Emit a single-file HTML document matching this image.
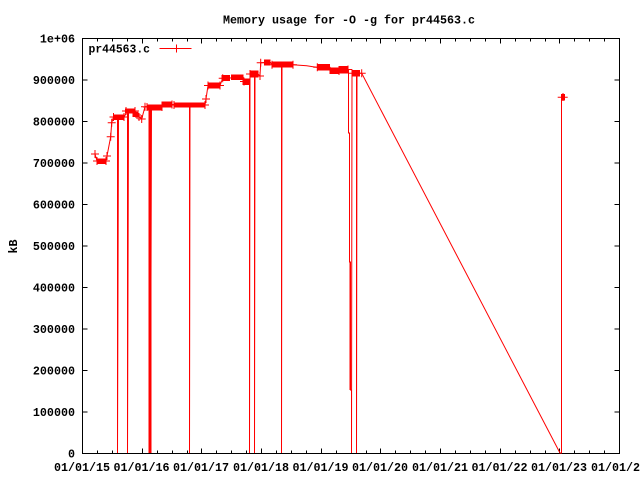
<!DOCTYPE html>
<html><head><meta charset="utf-8"><style>
html,body{margin:0;padding:0;background:#fff;}
svg{display:block;}
text{font-family:"Liberation Mono",monospace;font-weight:bold;font-size:11.7px;fill:#000;}
</style></head><body>
<svg width="640" height="480" viewBox="0 0 640 480" xmlns="http://www.w3.org/2000/svg">
<rect x="0" y="0" width="640" height="480" fill="#fff"/>
<!-- title -->
<text x="223" y="23.5" textLength="252" lengthAdjust="spacingAndGlyphs">Memory usage for -O -g for pr44563.c</text>
<!-- y label -->
<text transform="translate(17,246.5) rotate(-90)" text-anchor="middle">kB</text>

<!-- border -->
<rect x="82.5" y="38.5" width="537" height="415" fill="none" stroke="#000" stroke-width="1"/>

<!-- y ticks -->
<g stroke="#000" stroke-width="1" shape-rendering="crispEdges">
<path d="M82.5 453.5h5M82.5 412h5M82.5 370.5h5M82.5 329h5M82.5 287.5h5M82.5 246h5M82.5 204.5h5M82.5 163h5M82.5 121.5h5M82.5 80h5M82.5 38.5h5"/>
<path d="M619.5 453.5h-5M619.5 412h-5M619.5 370.5h-5M619.5 329h-5M619.5 287.5h-5M619.5 246h-5M619.5 204.5h-5M619.5 163h-5M619.5 121.5h-5M619.5 80h-5M619.5 38.5h-5"/>
<!-- x major ticks -->
<path d="M142.5 453.5v-5M201.5 453.5v-5M261.5 453.5v-5M321.5 453.5v-5M380.5 453.5v-5M440.5 453.5v-5M500.5 453.5v-5M559.5 453.5v-5"/>
<path d="M142.5 38.5v5M201.5 38.5v5M261.5 38.5v5M321.5 38.5v5M380.5 38.5v5M440.5 38.5v5M500.5 38.5v5M559.5 38.5v5"/>
<!-- x minor ticks -->
<path d="M97.5 453.5v-3M112.5 453.5v-3M127.5 453.5v-3M157.5 453.5v-3M172.5 453.5v-3M187.5 453.5v-3M216.5 453.5v-3M231.5 453.5v-3M246.5 453.5v-3M276.5 453.5v-3M291.5 453.5v-3M306.5 453.5v-3M336.5 453.5v-3M351.5 453.5v-3M366.5 453.5v-3M395.5 453.5v-3M410.5 453.5v-3M425.5 453.5v-3M455.5 453.5v-3M470.5 453.5v-3M485.5 453.5v-3M515.5 453.5v-3M530.5 453.5v-3M545.5 453.5v-3M574.5 453.5v-3M589.5 453.5v-3M604.5 453.5v-3"/>
<path d="M97.5 38.5v3M112.5 38.5v3M127.5 38.5v3M157.5 38.5v3M172.5 38.5v3M187.5 38.5v3M216.5 38.5v3M231.5 38.5v3M246.5 38.5v3M276.5 38.5v3M291.5 38.5v3M306.5 38.5v3M336.5 38.5v3M351.5 38.5v3M366.5 38.5v3M395.5 38.5v3M410.5 38.5v3M425.5 38.5v3M455.5 38.5v3M470.5 38.5v3M485.5 38.5v3M515.5 38.5v3M530.5 38.5v3M545.5 38.5v3M574.5 38.5v3M589.5 38.5v3M604.5 38.5v3"/>
</g>

<!-- y tick labels -->
<g text-anchor="end">
<text x="75" y="457.5">0</text>
<text x="75" y="416">100000</text>
<text x="75" y="374.5">200000</text>
<text x="75" y="333">300000</text>
<text x="75" y="291.5">400000</text>
<text x="75" y="250">500000</text>
<text x="75" y="208.5">600000</text>
<text x="75" y="167">700000</text>
<text x="75" y="125.5">800000</text>
<text x="75" y="84">900000</text>
<text x="75" y="42.5">1e+06</text>
</g>
<!-- x tick labels -->
<g text-anchor="middle">
<text x="82" y="471">01/01/15</text>
<text x="141.5" y="471">01/01/16</text>
<text x="201" y="471">01/01/17</text>
<text x="261" y="471">01/01/18</text>
<text x="320.5" y="471">01/01/19</text>
<text x="380" y="471">01/01/20</text>
<text x="440" y="471">01/01/21</text>
<text x="499.5" y="471">01/01/22</text>
<text x="559" y="471">01/01/23</text>
<text x="619" y="471">01/01/24</text>
</g>

<!-- legend -->
<text x="88.5" y="52.5" textLength="61.5" lengthAdjust="spacingAndGlyphs">pr44563.c</text>
<path d="M159.5 48.5H191.5M176.5 44.5v8" stroke="#f00" stroke-width="1" fill="none"/>

<!-- data -->
<g fill="#f00" shape-rendering="crispEdges">
<rect x="96.7" y="158.7" width="9.3" height="5.3"/>
<rect x="113.3" y="114.3" width="10.7" height="5.7"/>
<rect x="125" y="108.3" width="10" height="5"/>
<rect x="132.7" y="112" width="6" height="5"/>
<rect x="146.7" y="104.3" width="15" height="6.4"/>
<rect x="161.7" y="101.7" width="10" height="5.6"/>
<rect x="173.3" y="102.7" width="31.7" height="5"/>
<rect x="207.3" y="82.7" width="12.7" height="5.6"/>
<rect x="221.7" y="75" width="8.3" height="6"/>
<rect x="231" y="74.3" width="12.3" height="5.7"/>
<rect x="242.7" y="78.3" width="8" height="6.7"/>
<rect x="250" y="70.7" width="8.3" height="6.6"/>
<rect x="264" y="59.3" width="6.7" height="6.4"/>
<rect x="271.7" y="61.7" width="21" height="6"/>
<rect x="317.3" y="64" width="12.7" height="6.7"/>
<rect x="329.3" y="67.7" width="10" height="6.3"/>
<rect x="338.3" y="66" width="10" height="7.3"/>
<rect x="351.7" y="70" width="8.3" height="6.7"/>
<rect x="561" y="94" width="4" height="6.7"/>
<rect x="148.5" y="107" width="3" height="346"/>
<rect x="349.5" y="262" width="1.5" height="128"/>
</g>
<polyline fill="none" stroke="#f00" stroke-width="1" points="95,154 97,161 106,161 107,156 110.7,136.7 111.7,122.7 113.5,117 117.5,117 117.5,453 118.5,117 124,117 127.5,111 127.5,453 128.5,111 135,111 137,115 141.7,119 145,106.7 149.5,107 149.5,453 150.5,107 150.5,453 151.5,107 161.7,107 166,104.5 171.7,104.5 174,105 189.5,105 189.5,453 190,105 205,105 206,99 208,85.5 220,85.5 222.7,78.3 230,78 243,77 246,81.5 249.5,81.5 249.5,453 250,74 254.5,74 254.5,453 255,74 258,74 260,76 260.7,62.7 265,62.5 270.7,62.5 272,64.7 281.5,64.7 281.5,453 282,64.7 292.7,64.7 306.7,65.7 313,66.7 317.3,67.3 330,67.3 332,71 339,71 340,69.5 348.5,69.5 348.5,133 349.5,133 349.5,262 350.5,262 350.5,390 351.5,390 351.5,453 352,73.3 356.5,73.3 356.5,453 357,73.3 361.7,73.3 560,453 561.5,453 561.5,97 563,97"/>
<path fill="none" stroke="#f00" stroke-width="1" d="
M91 154h8M95 150v8
M93 161h8M97 157v8
M102 161h8M106 157v8
M103 156h8M107 152v8
M106.7 136.7h8M110.7 132.7v8
M107.7 122.7h8M111.7 118.7v8
M109.5 117h8M113.5 113v8
M120 117h8M124 113v8
M122 111h8M126 107v8
M131 111h8M135 107v8
M133 115h8M137 111v8
M135 117h8M139 113v8
M137.7 119h8M141.7 115v8
M141 106.7h8M145 102.7v8
M143 107h8M147 103v8
M158 107h8M162 103v8
M168 104.5h8M172 100.5v8
M170 105h8M174 101v8
M201 105h8M205 101v8
M202 99h8M206 95v8
M204 85.5h8M208 81.5v8
M216 85.5h8M220 81.5v8
M218.7 78.3h8M222.7 74.3v8
M240 81.5h8M244 77.5v8
M246 74h8M250 70v8
M256 76h8M260 72v8
M256.7 62.7h8M260.7 58.7v8
M268 64.7h8M272 60.7v8
M289 64.7h8M293 60.7v8
M313.3 67.3h8M317.3 63.3v8
M335 71h8M339 67v8
M344 69.5h8M348 65.5v8
M348 73.3h8M352 69.3v8
M357.7 73.3h8M361.7 69.3v8
M557.7 97.3h10M563 93v8
"/>
</svg>
</body></html>
